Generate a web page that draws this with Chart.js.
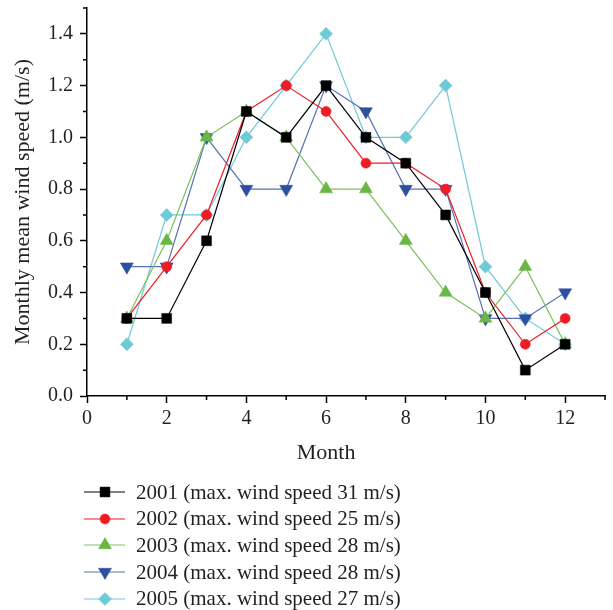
<!DOCTYPE html>
<html>
<head>
<meta charset="utf-8">
<script src="https://cdn.jsdelivr.net/npm/chart.js@4.4.0/dist/chart.umd.min.js"></script>
<style>
  body { margin: 0; background: #fff; }
  #wrap { position: relative; width: 613px; height: 610px; }
  #legend { position: absolute; left: 84px; top: 479px; font-family: "Liberation Serif", serif; font-size: 21px; color: #231f20; }
  .fila { height: 26.6px; display: flex; align-items: center; white-space: nowrap; }
  .fila canvas { margin-right: 11px; }
</style>
</head>
<body>
<div id="wrap">
  <canvas id="myChart" width="613" height="470"></canvas>
  <div id="legend"></div>
</div>
<script>
// datos
var meses = [1, 2, 3, 4, 5, 6, 7, 8, 9, 10, 11, 12];
var v2001 = [0.3, 0.3, 0.6, 1.1, 1.0, 1.2, 1.0, 0.9, 0.7, 0.4, 0.1, 0.2];
var v2002 = [0.3, 0.5, 0.7, 1.1, 1.2, 1.1, 0.9, 0.9, 0.8, 0.4, 0.2, 0.3];
var v2003 = [0.3, 0.6, 1.0, 1.1, 1.0, 0.8, 0.8, 0.6, 0.4, 0.3, 0.5, 0.2];
var v2004 = [0.5, 0.5, 1.0, 0.8, 0.8, 1.2, 1.1, 0.8, 0.8, 0.3, 0.3, 0.4];
var v2005 = [0.2, 0.7, 0.7, 1.0, 1.2, 1.4, 1.0, 1.0, 1.2, 0.5, 0.3, 0.2];
var etiquetas = [
  '2001 (max. wind speed 31 m/s)',
  '2002 (max. wind speed 25 m/s)',
  '2003 (max. wind speed 28 m/s)',
  '2004 (max. wind speed 28 m/s)',
  '2005 (max. wind speed 27 m/s)'
];
var xTicks = [0, 2, 4, 6, 8, 10, 12];
var yTicks = [0, 0.2, 0.4, 0.6, 0.8, 1.0, 1.2, 1.4];
var xMenores = [1, 3, 5, 7, 9, 11, 13];
var yMenores = [0.1, 0.3, 0.5, 0.7, 0.9, 1.1, 1.3, 1.5];

var fuente = '"Liberation Serif", serif';
var series = [v2001, v2002, v2003, v2004, v2005];
var colores = ['#000000', '#ee1c25', '#6ab746', '#2e4f9f', '#6fcad8'];
var lineas = ['#000000', '#ee1c25', '#7cc15a', '#5571b3', '#6fcad8'];
var estilos = ['rect', 'circle', 'triangle', 'triangle', 'rectRot'];
var radios = [7, 5, 7.5, 7.5, 6.5];
var rotaciones = [0, 0, 0, 180, 0];

var datasets = [];
for (var i = 0; i < series.length; i++) {
  datasets.push({
    label: etiquetas[i],
    data: meses.map(function (m, j) { return { x: m, y: series[i][j] }; }),
    borderColor: lineas[i],
    borderWidth: 1.2,
    backgroundColor: colores[i],
    pointBackgroundColor: colores[i],
    pointBorderColor: colores[i],
    pointBorderWidth: 0.5,
    pointStyle: estilos[i],
    pointRadius: radios[i],
    pointRotation: rotaciones[i],
    tension: 0
  });
}

var ticksMenores = {
  id: 'ticksMenores',
  afterDraw: function (chart) {
    var ctx = chart.ctx, sx = chart.scales.x, sy = chart.scales.y;
    ctx.save();
    ctx.strokeStyle = '#000';
    ctx.lineWidth = 1.5;
    ctx.beginPath();
    xMenores.forEach(function (v) {
      var px = sx.getPixelForValue(v);
      ctx.moveTo(px, sx.top); ctx.lineTo(px, sx.top + 4);
    });
    yMenores.forEach(function (v) {
      var py = sy.getPixelForValue(v);
      ctx.moveTo(sy.right, py); ctx.lineTo(sy.right - 4, py);
    });
    ctx.stroke();
    ctx.font = '22px ' + fuente;
    ctx.fillStyle = '#231f20';
    ctx.textAlign = 'center';
    ctx.textBaseline = 'middle';
    ctx.fillText('Month', sx.getPixelForValue(6), sx.top + 57);
    ctx.restore();
  }
};

const ctx = document.getElementById('myChart');
new Chart(ctx, {
  type: 'line',
  data: { datasets: datasets },
  plugins: [ticksMenores],
  options: {
    responsive: false,
    animation: false,
    layout: { padding: { top: 6, right: 4, left: 0, bottom: 0 } },
    plugins: { legend: { display: false }, tooltip: { enabled: false } },
    scales: {
      x: {
        type: 'linear',
        min: 0, max: 13,
        afterBuildTicks: function (s) { s.ticks = xTicks.map(function (v) { return { value: v }; }); },
        afterFit: function (s) { s.height = 74; s.paddingLeft = 0; s.paddingRight = 0; },
        border: { display: true, color: '#000', width: 1.5 },
        grid: { drawOnChartArea: false, tickLength: 7, tickColor: '#000', tickWidth: 1.5 },
        ticks: { color: '#231f20', font: { family: fuente, size: 20 }, padding: 4, maxRotation: 0 }
      },
      y: {
        min: 0, max: 1.5,
        afterBuildTicks: function (s) { s.ticks = yTicks.map(function (v) { return { value: v }; }); },
        afterFit: function (s) { s.width = 87; s.paddingTop = 0; s.paddingBottom = 0; },
        border: { display: true, color: '#000', width: 1.5 },
        grid: { drawOnChartArea: false, tickLength: 7, tickColor: '#000', tickWidth: 1.5 },
        ticks: {
          color: '#231f20', font: { family: fuente, size: 20 }, padding: 7,
          callback: function (v) { return v.toFixed(1); }
        },
        title: {
          display: true, text: 'Monthly mean wind speed (m/s)', color: '#231f20',
          font: { family: fuente, size: 22 }, padding: { top: 10, bottom: 0 }
        }
      }
    }
  }
});

// leyenda en html
var leyenda = document.getElementById('legend');
for (var k = 0; k < datasets.length; k++) {
  var fila = document.createElement('div');
  fila.className = 'fila';
  var c = document.createElement('canvas');
  c.width = 41; c.height = 20;
  var g = c.getContext('2d');
  g.strokeStyle = lineas[k]; g.lineWidth = 1.2;
  g.beginPath(); g.moveTo(0, 10); g.lineTo(41, 10); g.stroke();
  g.fillStyle = colores[k]; g.strokeStyle = colores[k]; g.lineWidth = 0.5;
  Chart.helpers.drawPoint(g, { pointStyle: estilos[k], radius: radios[k], rotation: rotaciones[k], borderWidth: 0.5 }, 21, 10);
  fila.appendChild(c);
  var t = document.createElement('span');
  t.textContent = etiquetas[k];
  fila.appendChild(t);
  leyenda.appendChild(fila);
}
</script>
</body>
</html>
